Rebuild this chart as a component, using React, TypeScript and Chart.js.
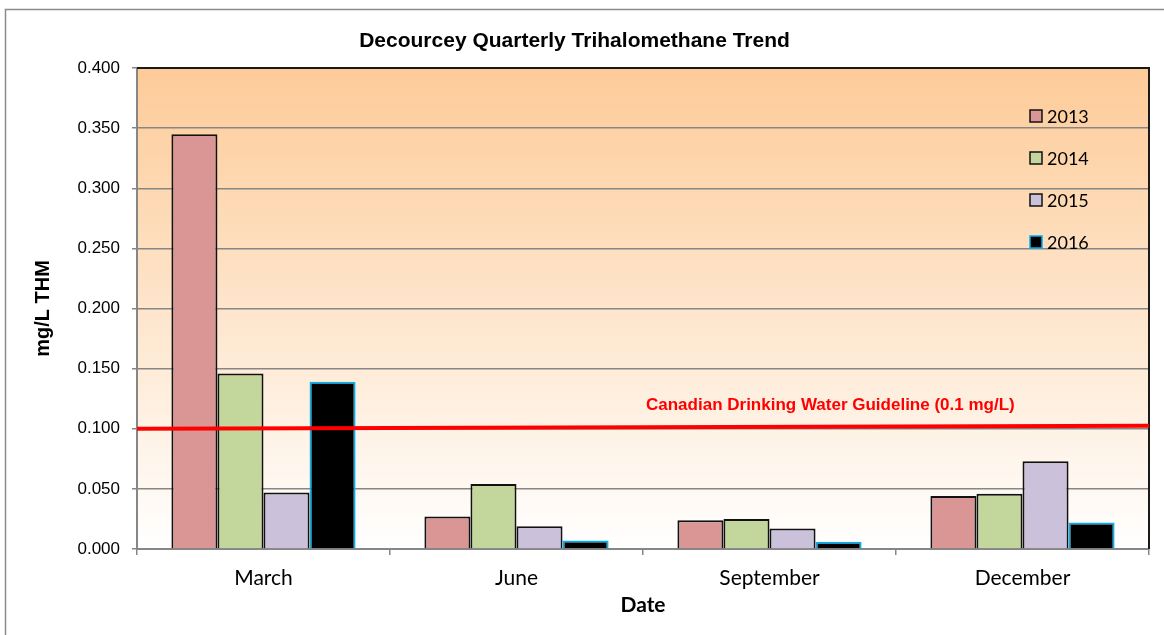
import React, { useEffect, useRef } from 'react';
import { Chart, registerables } from 'chart.js';

Chart.register(...registerables);

const categories = ['March', 'June', 'September', 'December'];
const seriesLabels = ['2013', '2014', '2015', '2016'];
const values2013 = [0.345, 0.027, 0.024, 0.044];
const values2014 = [0.146, 0.054, 0.025, 0.046];
const values2015 = [0.047, 0.019, 0.017, 0.073];
const values2016 = [0.139, 0.007, 0.006, 0.022];
// guideline value at the left and right edges of the plot
const guidelineY = [0.1, 0.1025];
const guidelineLabel = 'Canadian Drinking Water Guideline (0.1 mg/L)';
const chartTitle = 'Decourcey Quarterly Trihalomethane Trend';
const yAxisTitle = 'mg/L THM';
const xAxisTitle = 'Date';

const fills = ['#D99694', '#C3D69B', '#CCC1DA', '#000000'];
const borders = ['#111111', '#111111', '#111111', '#00B0F0'];

const GRID = '#868686';

const bgPlugin = {
  id: 'bgPlugin',
  beforeDraw(chart: any) {
    const { ctx, chartArea, width, height } = chart;
    ctx.save();
    ctx.fillStyle = '#ffffff';
    ctx.fillRect(0, 0, width, height);
    ctx.strokeStyle = '#8c8c8c';
    ctx.lineWidth = 1.5;
    ctx.strokeRect(5.5, 9.5, width + 50, height + 50);
    const g = ctx.createLinearGradient(0, chartArea.top, 0, chartArea.bottom);
    g.addColorStop(0, '#FDCB98');
    g.addColorStop(1, '#FFFFFF');
    ctx.fillStyle = g;
    ctx.fillRect(chartArea.left, chartArea.top, chartArea.right - chartArea.left, chartArea.bottom - chartArea.top);
    ctx.restore();
  },
};

const overlayPlugin = {
  id: 'overlayPlugin',
  afterDatasetsDraw(chart: any) {
    const { ctx, chartArea, scales } = chart;
    const xs = scales.x;
    const ys = scales.y;
    ctx.save();
    ctx.strokeStyle = '#1a1a1a';
    ctx.lineWidth = 2;
    ctx.beginPath();
    ctx.moveTo(chartArea.left, chartArea.top);
    ctx.lineTo(chartArea.right, chartArea.top);
    ctx.lineTo(chartArea.right, chartArea.bottom);
    ctx.stroke();

    // guideline
    ctx.strokeStyle = '#FF0000';
    ctx.lineWidth = 4;
    ctx.beginPath();
    ctx.moveTo(chartArea.left, ys.getPixelForValue(guidelineY[0]));
    ctx.lineTo(chartArea.right, ys.getPixelForValue(guidelineY[1]));
    ctx.stroke();

    const lx = (xs.getPixelForValue(1) + xs.getPixelForValue(2)) / 2 + 3;
    const ly = ys.getPixelForValue(guidelineY[0]) - 23;
    ctx.fillStyle = '#FF0000';
    ctx.font = 'bold 17px "Liberation Sans", Arial, sans-serif';
    ctx.textBaseline = 'middle';
    ctx.textAlign = 'left';
    ctx.fillText(guidelineLabel, lx, ly);

    const x0 = chartArea.right - 119;
    let y = chartArea.top + 48;
    chart.data.datasets.forEach((ds: any) => {
      ctx.fillStyle = ds.backgroundColor;
      ctx.fillRect(x0, y - 6, 12, 12);
      ctx.strokeStyle = ds.borderColor;
      ctx.lineWidth = 1.5;
      ctx.strokeRect(x0, y - 6, 12, 12);
      ctx.fillStyle = '#000';
      ctx.font = '18px Lato, sans-serif';
      ctx.textBaseline = 'middle';
      ctx.fillText(ds.label, x0 + 17, y + 1);
      y += 42;
    });
    ctx.restore();
  },
};

export default function App() {
  const ref = useRef<HTMLCanvasElement | null>(null);

  useEffect(() => {
    document.body.style.margin = '0';
    const canvas = ref.current;
    if (!canvas) return;
    const valueSets = [values2013, values2014, values2015, values2016];
    const chart = new Chart(canvas, {
      type: 'bar',
      data: {
        labels: categories,
        datasets: seriesLabels.map((label, i) => ({
          label,
          data: valueSets[i],
          backgroundColor: fills[i],
          borderColor: borders[i],
          borderWidth: 2,
        })),
      } as any,
      options: {
        animation: false,
        responsive: false,
        maintainAspectRatio: false,
        barPercentage: 1,
        categoryPercentage: 0.728,
        layout: { padding: { left: 0, right: 15, top: 0, bottom: 0 } },
        plugins: {
          legend: { display: false },
          tooltip: { enabled: false },
          title: {
            display: true,
            text: chartTitle,
            color: '#000',
            font: { family: '"Liberation Sans", Arial, sans-serif', size: 21, weight: 'bold', lineHeight: 1.2 },
            padding: { top: 28.4, bottom: 14.4 },
          },
        },
        scales: {
          x: {
            type: 'category',
            position: 'bottom',
            offset: true,
            afterFit(scale: any) {
              scale.height = 86;
            },
            grid: {
              display: true,
              drawOnChartArea: false,
              offset: true,
              tickLength: 6,
              color: GRID,
              lineWidth: 1.5,
            },
            border: { display: true, color: GRID, width: 2 },
            ticks: {
              color: '#000',
              font: { family: 'Lato, sans-serif', size: 21 },
              padding: 11,
            },
            title: {
              display: true,
              text: xAxisTitle,
              color: '#000',
              font: { family: 'Lato, sans-serif', size: 21, weight: 'bold', lineHeight: 1.2 },
              padding: { top: 0, bottom: 17.4 },
            },
          },
          y: {
            type: 'linear',
            position: 'left',
            min: 0,
            max: 0.4,
            afterFit(scale: any) {
              scale.width = 137;
            },
            grid: {
              color: GRID,
              lineWidth: 1.5,
              tickLength: 5,
            },
            border: { display: true, color: GRID, width: 2 },
            ticks: {
              stepSize: 0.05,
              color: '#000',
              font: { family: '"Liberation Sans", Arial, sans-serif', size: 17 },
              padding: 12,
              callback: (v: any) => Number(v).toFixed(3),
            },
            title: {
              display: true,
              text: yAxisTitle,
              color: '#000',
              font: { family: '"Liberation Sans", Arial, sans-serif', size: 20, weight: 'bold', lineHeight: 1.2 },
              padding: { top: 31, bottom: 0 },
            },
          },
        },
      } as any,
      plugins: [bgPlugin, overlayPlugin],
    });
    return () => chart.destroy();
  }, []);

  return (
    <div style={{ width: 1164, height: 635 }}>
      <canvas ref={ref} width={1164} height={635} />
    </div>
  );
}
